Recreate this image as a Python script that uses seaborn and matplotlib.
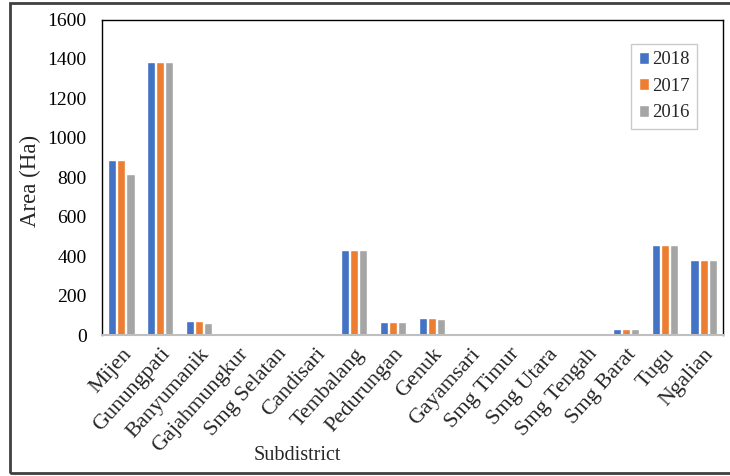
import matplotlib
matplotlib.use("Agg")
import matplotlib.pyplot as plt
import seaborn as sns
import pandas as pd
from matplotlib.patches import Rectangle

subdistricts = ["Mijen", "Gunungpati", "Banyumanik", "Gajahmungkur", "Smg Selatan",
                "Candisari", "Tembalang", "Pedurungan", "Genuk", "Gayamsari",
                "Smg Timur", "Smg Utara", "Smg Tengah", "Smg Barat", "Tugu", "Ngalian"]
area_2018 = [885, 1385, 70, 0, 0, 0, 430, 65, 88, 5, 0, 0, 0, 30, 455, 380]
area_2017 = [885, 1385, 70, 0, 0, 0, 430, 65, 88, 5, 0, 0, 0, 30, 455, 380]
area_2016 = [815, 1385, 60, 0, 0, 0, 430, 65, 80, 5, 0, 0, 0, 30, 455, 380]
years = ["2018", "2017", "2016"]
colors = ["#4472C4", "#ED7D31", "#A5A5A5"]
y_ticks = [0, 200, 400, 600, 800, 1000, 1200, 1400, 1600]

rows = []
for yr, vals in zip(years, [area_2018, area_2017, area_2016]):
    for s, v in zip(subdistricts, vals):
        rows.append({"Subdistrict": s, "Year": yr, "Area": v})
df = pd.DataFrame(rows)

sns.set_style("white")
plt.rcParams["font.family"] = ["Liberation Serif", "DejaVu Serif"]

fig = plt.figure(figsize=(7.3, 4.76), dpi=100)
ax = fig.add_axes([102/730, 1-335/476, (723-102)/730, (335-19.5)/476])

sns.barplot(data=df, x="Subdistrict", y="Area", hue="Year", hue_order=years,
            palette=colors, width=0.7, gap=0.1, ax=ax, saturation=1, legend=True)

ax.set_ylim(0, 1600)
ax.set_yticks(y_ticks)
ax.set_xlim(-0.5, len(subdistricts) - 0.5)
ax.tick_params(axis="y", direction="in", length=4, width=1, labelsize=14, colors="black", pad=11)
ax.tick_params(axis="x", length=0, labelsize=16, pad=7)
plt.setp(ax.get_xticklabels(), rotation=48, ha="right", rotation_mode="anchor")

for side in ["left", "top", "right"]:
    ax.spines[side].set_color("black")
    ax.spines[side].set_linewidth(1.0)
ax.spines["bottom"].set_color("#BFBFBF")
ax.spines["bottom"].set_linewidth(1.5)

ax.set_ylabel("Area (Ha)", fontsize=16.5)
ax.set_xlabel("Subdistrict", fontsize=14.5)
ax.xaxis.set_label_coords(297.5/621 - 102/621, -(456-335)/315.5)
ax.xaxis.label.set_va("center")
ax.yaxis.set_label_coords(-(102-30)/621, (335-181)/315.5)
ax.yaxis.label.set_va("center")

leg = ax.legend(loc="upper right", bbox_to_anchor=((697-102)/621, (335-44)/315.5), fontsize=13.5,
                handlelength=0.55, handleheight=0.6, handletextpad=0.15,
                labelspacing=0.5, borderpad=0.4, frameon=True, fancybox=False,
                borderaxespad=0)
leg.get_frame().set_edgecolor("#BFBFBF")
leg.get_frame().set_linewidth(1.0)

fig.patches.append(Rectangle((10/730, 3/476), 1.0, 470/476, transform=fig.transFigure,
                             fill=False, edgecolor="#404040", linewidth=2, zorder=10))

fig.savefig("out.png", dpi=100)
